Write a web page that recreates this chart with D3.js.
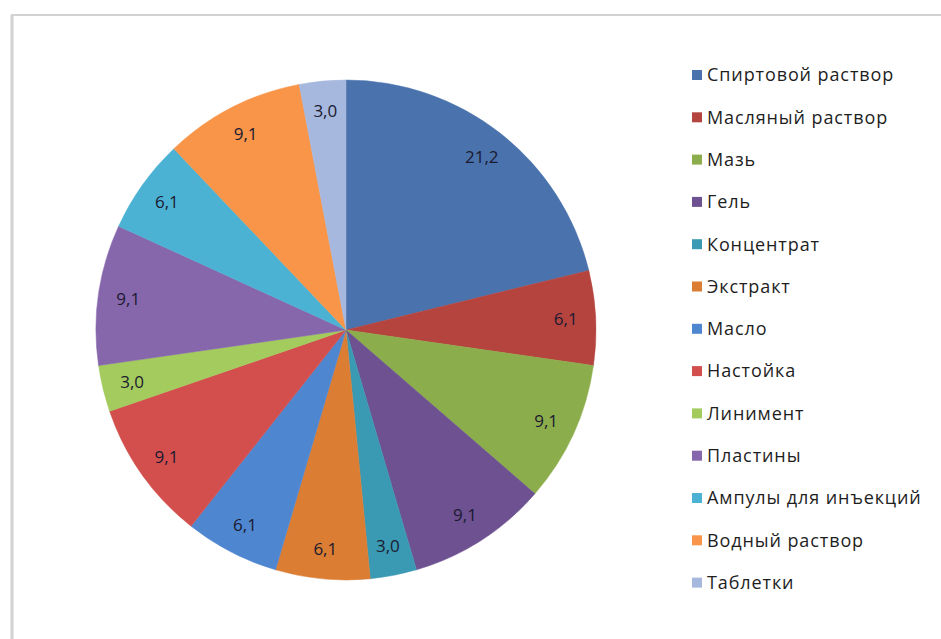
<!DOCTYPE html>
<html>
<head>
<meta charset="utf-8">
<script src="https://cdn.jsdelivr.net/npm/d3@7"></script>
<style>
  html, body { margin: 0; padding: 0; background: #fff; }
  svg { display: block; font-family: "Open Sans", "Noto Sans", sans-serif; }
</style>
</head>
<body>
<svg id="chart" width="941" height="639"></svg>
<script>
// Dosage forms, share in percent
const categories = [
  "Спиртовой раствор", "Масляный раствор", "Мазь", "Гель", "Концентрат",
  "Экстракт", "Масло", "Настойка", "Линимент", "Пластины",
  "Ампулы для инъекций", "Водный раствор", "Таблетки"
];
const values = [21.2, 6.1, 9.1, 9.1, 3.0, 6.1, 6.1, 9.1, 3.0, 9.1, 6.1, 9.1, 3.0];
const colors = [
  "#4a72ac", "#b5443f", "#8cad4c", "#6d5190", "#3a9ab3",
  "#db7d33", "#4f86d0", "#d24f4d", "#a3cb5e", "#8767ac",
  "#4cb2d4", "#f89548", "#a6b8de"
];

const svg = d3.select("#chart");
const W = 941, H = 639;

// chart area frame (top and left edges)
svg.append("line").attr("x1", 11).attr("y1", 15).attr("x2", W).attr("y2", 15)
  .attr("stroke", "#d2d2d2").attr("stroke-width", 2);
svg.append("line").attr("x1", 12).attr("y1", 15).attr("x2", 12).attr("y2", H)
  .attr("stroke", "#d2d2d2").attr("stroke-width", 3);

const cx = 346, cy = 330, R = 250;
const data = categories.map((c, i) => ({ name: c, value: values[i], color: colors[i] }));

const pie = d3.pie().value(d => d.value).sort(null);
const arcs = pie(data);
const arc = d3.arc().innerRadius(0).outerRadius(R);
const labelArc = d3.arc().innerRadius(R * 0.88).outerRadius(R * 0.88);

const g = svg.append("g").attr("transform", `translate(${cx},${cy})`);
g.selectAll("path.slice").data(arcs).join("path")
  .attr("class", "slice")
  .attr("d", arc)
  .attr("fill", d => d.data.color)
  .attr("stroke", d => d.data.color)
  .attr("stroke-width", 0.5);

const fmt = v => v.toFixed(1).replace(".", ",");
g.selectAll("text.val").data(arcs).join("text")
  .attr("class", "val")
  .attr("transform", d => `translate(${labelArc.centroid(d)})`)
  .attr("text-anchor", "middle")
  .attr("dy", "0.35em")
  .attr("font-size", 17)
  .attr("fill", "#1a1a30")
  .text(d => fmt(d.data.value));

// legend
const legend = svg.append("g").attr("transform", "translate(692,75)");
const step = 42.3;
const items = legend.selectAll("g").data(data).join("g")
  .attr("transform", (d, i) => `translate(0,${i * step})`);
items.append("rect").attr("x", 0).attr("y", -5).attr("width", 10).attr("height", 10)
  .attr("fill", d => d.color);
items.append("text").attr("x", 15).attr("dy", "0.35em")
  .attr("font-size", 18).attr("letter-spacing", 0.9).attr("fill", "#1e1e1e")
  .text(d => d.name);
</script>
</body>
</html>
